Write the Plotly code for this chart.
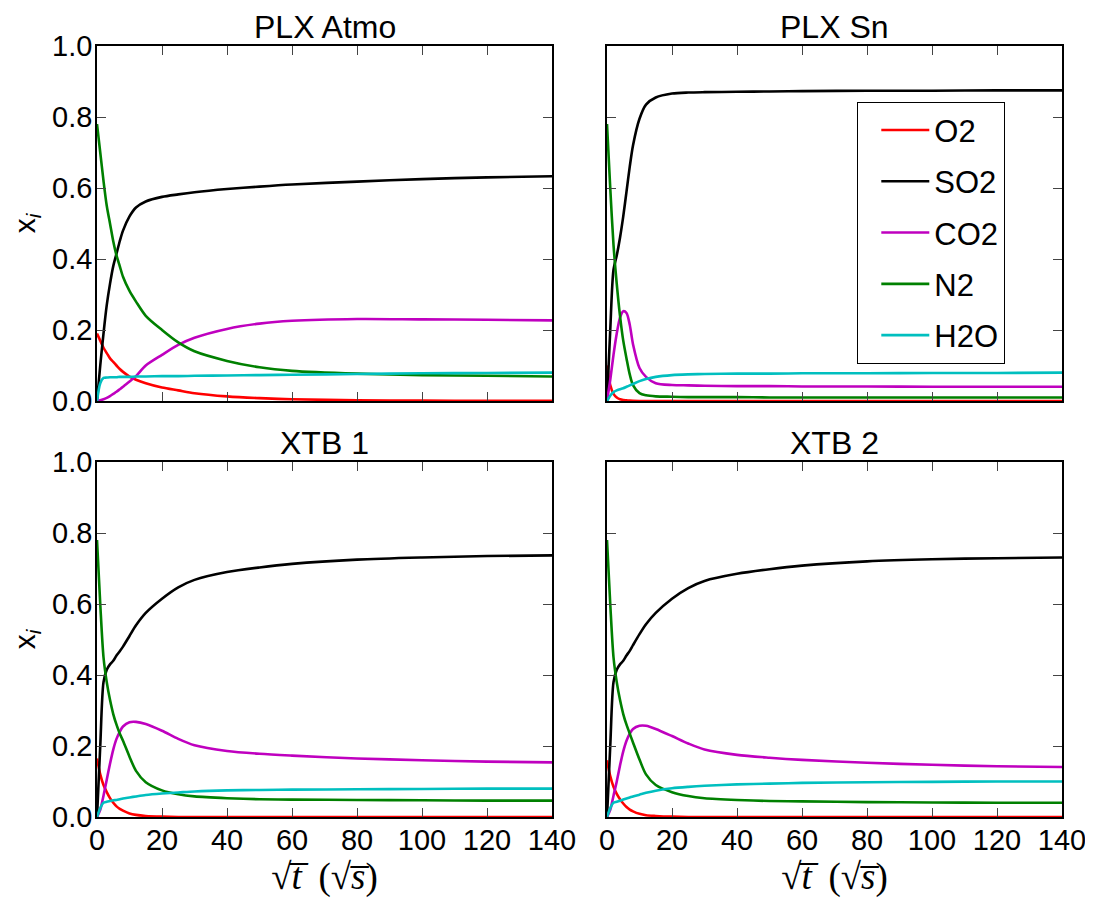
import plotly.graph_objects as go

# ---------------- data ----------------
X = [0, 1, 2, 3, 4, 5, 6, 7, 8, 10, 12, 15, 20, 25, 30, 40, 50, 60, 80, 100, 120, 140]

species = ["O2", "SO2", "CO2", "N2", "H2O"]
colors = {"O2": "#ff0000", "SO2": "#000000", "CO2": "#bf00bf", "N2": "#008000", "H2O": "#00bfbf"}
titles = ["PLX Atmo", "PLX Sn", "XTB 1", "XTB 2"]

atmo_O2 = [0.19, 0.17, 0.15, 0.135, 0.12, 0.11, 0.1, 0.09, 0.082, 0.069, 0.06, 0.05, 0.038, 0.03, 0.022, 0.013, 0.008, 0.005, 0.002, 0.001, 0.0005, 0.0003]
atmo_SO2 = [0.0, 0.1, 0.19, 0.27, 0.33, 0.38, 0.415, 0.45, 0.48, 0.52, 0.545, 0.562, 0.575, 0.582, 0.588, 0.597, 0.604, 0.61, 0.618, 0.625, 0.63, 0.633]
atmo_CO2 = [0.0, 0.002, 0.005, 0.009, 0.014, 0.02, 0.026, 0.033, 0.04, 0.055, 0.07, 0.1, 0.13, 0.158, 0.178, 0.203, 0.218, 0.226, 0.231, 0.23, 0.229, 0.227]
atmo_N2 = [0.78, 0.7, 0.62, 0.55, 0.5, 0.45, 0.41, 0.38, 0.35, 0.31, 0.28, 0.24, 0.2, 0.165, 0.14, 0.113, 0.095, 0.085, 0.077, 0.073, 0.071, 0.069]
atmo_H2O = [0.0, 0.05, 0.065, 0.066, 0.067, 0.067, 0.067, 0.068, 0.068, 0.068, 0.069, 0.069, 0.07, 0.07, 0.071, 0.072, 0.073, 0.074, 0.076, 0.078, 0.079, 0.08]

sn_O2 = [0.1, 0.045, 0.02, 0.01, 0.005, 0.003, 0.002, 0.001, 0.0005, 0.0, 0.0, 0.0, 0.0, 0.0, 0.0, 0.0, 0.0, 0.0, 0.0, 0.0, 0.0, 0.0]
sn_SO2 = [0.0, 0.2, 0.37, 0.41, 0.46, 0.52, 0.59, 0.66, 0.72, 0.795, 0.835, 0.855, 0.866, 0.869, 0.87, 0.871, 0.872, 0.873, 0.874, 0.874, 0.875, 0.875]
sn_CO2 = [0.0, 0.06, 0.13, 0.19, 0.235, 0.253, 0.248, 0.215, 0.16, 0.093, 0.068, 0.05, 0.045, 0.044, 0.043, 0.042, 0.042, 0.041, 0.041, 0.04, 0.04, 0.04]
sn_N2 = [0.78, 0.6, 0.44, 0.33, 0.24, 0.17, 0.12, 0.075, 0.045, 0.022, 0.016, 0.013, 0.012, 0.011, 0.011, 0.011, 0.01, 0.01, 0.01, 0.01, 0.01, 0.01]
sn_H2O = [0.0, 0.015, 0.025, 0.03, 0.033, 0.036, 0.04, 0.044, 0.048, 0.056, 0.062, 0.068, 0.073, 0.075, 0.076, 0.077, 0.077, 0.078, 0.078, 0.079, 0.079, 0.08]

xtb1_O2 = [0.165, 0.12, 0.09, 0.07, 0.053, 0.04, 0.03, 0.023, 0.018, 0.01, 0.006, 0.003, 0.001, 0.0, 0.0, 0.0, 0.0, 0.0, 0.0, 0.0, 0.0, 0.0]
xtb1_SO2 = [0.0, 0.2, 0.38, 0.415, 0.43, 0.44, 0.455, 0.467, 0.48, 0.51, 0.54, 0.575, 0.615, 0.647, 0.668, 0.69, 0.703, 0.713, 0.725, 0.731, 0.735, 0.737]
xtb1_CO2 = [0.0, 0.02, 0.06, 0.105, 0.15, 0.19, 0.22, 0.24, 0.255, 0.267, 0.268, 0.262, 0.243, 0.22, 0.202, 0.186, 0.178, 0.173, 0.165, 0.16, 0.156, 0.154]
xtb1_N2 = [0.78, 0.6, 0.45, 0.38, 0.33, 0.29, 0.26, 0.235, 0.215, 0.17, 0.13, 0.098, 0.075, 0.064, 0.058, 0.053, 0.05, 0.049, 0.048, 0.047, 0.046, 0.046]
xtb1_H2O = [0.0, 0.025, 0.04, 0.043, 0.045, 0.047, 0.048, 0.05, 0.052, 0.055, 0.058, 0.062, 0.066, 0.069, 0.072, 0.075, 0.076, 0.077, 0.078, 0.079, 0.08, 0.08]

xtb2_O2 = [0.16, 0.115, 0.085, 0.065, 0.05, 0.038, 0.028, 0.021, 0.016, 0.009, 0.005, 0.003, 0.001, 0.0, 0.0, 0.0, 0.0, 0.0, 0.0, 0.0, 0.0, 0.0]
xtb2_SO2 = [0.0, 0.2, 0.38, 0.415, 0.43, 0.44, 0.455, 0.468, 0.484, 0.515, 0.543, 0.575, 0.615, 0.645, 0.665, 0.685, 0.698, 0.708, 0.72, 0.726, 0.729, 0.731]
xtb2_CO2 = [0.0, 0.02, 0.06, 0.1, 0.145, 0.185, 0.215, 0.235, 0.248, 0.257, 0.257, 0.248, 0.228, 0.207, 0.19, 0.175, 0.167, 0.161, 0.153, 0.147, 0.143, 0.141]
xtb2_N2 = [0.78, 0.6, 0.45, 0.38, 0.33, 0.29, 0.26, 0.235, 0.21, 0.162, 0.12, 0.09, 0.07, 0.059, 0.053, 0.048, 0.045, 0.044, 0.042, 0.041, 0.04, 0.04]
xtb2_H2O = [0.0, 0.025, 0.04, 0.043, 0.046, 0.049, 0.052, 0.055, 0.058, 0.063, 0.068, 0.074, 0.081, 0.085, 0.088, 0.092, 0.094, 0.096, 0.098, 0.099, 0.1, 0.1]

panels = [
    {"O2": atmo_O2, "SO2": atmo_SO2, "CO2": atmo_CO2, "N2": atmo_N2, "H2O": atmo_H2O},
    {"O2": sn_O2, "SO2": sn_SO2, "CO2": sn_CO2, "N2": sn_N2, "H2O": sn_H2O},
    {"O2": xtb1_O2, "SO2": xtb1_SO2, "CO2": xtb1_CO2, "N2": xtb1_N2, "H2O": xtb1_H2O},
    {"O2": xtb2_O2, "SO2": xtb2_SO2, "CO2": xtb2_CO2, "N2": xtb2_N2, "H2O": xtb2_H2O},
]

x_ticks = [0, 20, 40, 60, 80, 100, 120, 140]
y_ticks = [0.0, 0.2, 0.4, 0.6, 0.8, 1.0]
y_ticklabels = ["0.0", "0.2", "0.4", "0.6", "0.8", "1.0"]

# ---------------- layout geometry ----------------
OFF = 8  # page body margin in the browser
W, H = 1093 - OFF, 900 - OFF
FONT = "Liberation Sans, Arial, sans-serif"
SERIF = "Liberation Serif, DejaVu Serif, serif"
cols = [(97 - OFF, 552 - OFF), (607 - OFF, 1062 - OFF)]
rows = [(46 - OFF, 401 - OFF), (462 - OFF, 817 - OFF)]

fig = go.Figure()
layout = dict(
    width=W, height=H,
    margin=dict(l=0, r=0, t=0, b=0, autoexpand=False),
    paper_bgcolor="white", plot_bgcolor="white",
    font=dict(family=FONT, size=29, color="black"),
    showlegend=True,
)
annotations = []
for i, data in enumerate(panels):
    r, c = divmod(i, 2)
    ax = "" if i == 0 else str(i + 1)
    x0, x1 = cols[c]
    y0, y1 = rows[r]
    xd = [x0 / W, x1 / W]
    yd = [1 - y1 / H, 1 - y0 / H]
    xa = dict(
        domain=xd, anchor="y" + ax, range=[0, 140], tickvals=x_ticks,
        showticklabels=(r == 1), ticks="inside", ticklen=9, tickwidth=1.2,
        mirror="ticks", showline=True, linecolor="black", linewidth=1.6,
        showgrid=False, zeroline=False, tickfont=dict(size=29), automargin=False,
        ticklabelstandoff=-4,
    )
    if r == 1:
        xa["title"] = dict(text="√<i>t\u0305</i>\u2009 (√<i>s\u0305</i>)",
                           font=dict(size=37, family=SERIF), standoff=0)
    ya = dict(
        domain=yd, anchor="x" + ax, range=[0, 1], tickvals=y_ticks, ticktext=y_ticklabels,
        showticklabels=(c == 0), ticks="inside", ticklen=9, tickwidth=1.2,
        mirror="ticks", showline=True, linecolor="black", linewidth=1.6,
        showgrid=False, zeroline=False, tickfont=dict(size=29), automargin=False,
        ticklabelstandoff=-3,
    )
    if c == 0:
        ya["title"] = dict(text="x<sub><i>i</i></sub>", font=dict(size=30), standoff=12)
    layout["xaxis" + ax] = xa
    layout["yaxis" + ax] = ya
    annotations.append(dict(
        text=titles[i], x=(xd[0] + xd[1]) / 2, y=yd[1], xref="paper", yref="paper",
        xanchor="center", yanchor="bottom", yshift=0, borderpad=0, showarrow=False,
        font=dict(size=32, family=FONT),
    ))
    for sp in species:
        fig.add_trace(go.Scatter(
            x=X, y=data[sp], mode="lines", name=sp,
            line=dict(color=colors[sp], width=2.6, shape="spline", smoothing=0.8),
            xaxis="x" + ax, yaxis="y" + ax,
            showlegend=(i == 1), legendgroup=sp,
            cliponaxis=True,
        ))

layout["annotations"] = annotations
layout["legend"] = dict(
    x=(857 - OFF) / W, y=1 - (102 - OFF) / H, xanchor="left", yanchor="top",
    bordercolor="black", borderwidth=1.3, bgcolor="white",
    font=dict(size=31, family=FONT), tracegroupgap=8,
    indentation=18, itemwidth=48,
)
fig.update_layout(**layout)
fig.write_html("out.html")
